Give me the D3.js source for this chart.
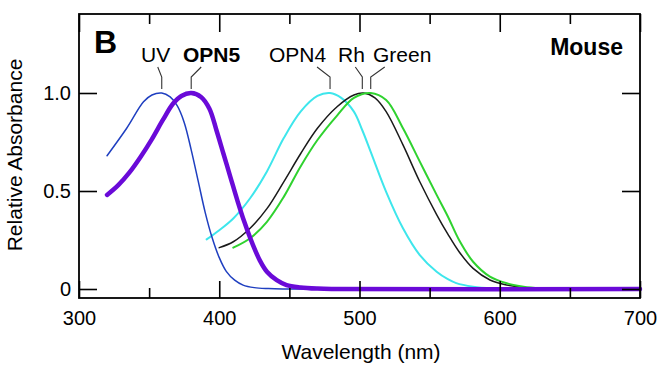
<!DOCTYPE html>
<html>
<head>
<meta charset="utf-8">
<script src="https://d3js.org/d3.v7.min.js"></script>
<style>
  body { margin: 0; background: #fff; }
  svg text { font-family: "Liberation Sans", Arial, sans-serif; fill: #000; }
</style>
</head>
<body>
<div id="chart"></div>
<script>
// absorbance spectra, [wavelength nm, relative absorbance]
const uv = [[320,.68],[334,.82],[346,.955],[352,.99],[359,1],[365,.98],[370,.935],[375,.85],[380,.71],[385,.55],[390,.39],[395,.26],[400,.16],[405,.09],[411,.045],[417,.02],[425,.007],[435,.002],[445,0],[700,0]];
const opn5 = [[320,.48],[328,.53],[336,.595],[344,.675],[352,.765],[360,.865],[367,.945],[373,.985],[380,1],[387,.98],[393,.92],[398,.81],[403,.69],[408,.57],[413,.45],[418,.34],[424,.225],[429,.145],[434,.088],[441,.045],[448,.02],[458,.008],[470,.002],[480,0],[700,0]];
const opn4 = [[391,.253],[400,.30],[410,.36],[422,.463],[434,.60],[446,.77],[458,.905],[470,.985],[479,1],[487,.975],[496,.905],[502,.81],[508,.70],[519,.496],[531,.31],[543,.173],[555,.088],[563,.05],[569,.03],[581,.012],[595,.003],[610,0],[700,0]];
const rh = [[400,.211],[410,.241],[422,.31],[434,.41],[446,.547],[458,.69],[470,.82],[484,.93],[496,.99],[503,1],[511,.975],[519,.905],[531,.735],[543,.547],[555,.38],[563,.28],[571,.19],[581,.105],[593,.046],[605,.02],[617,.008],[630,.002],[640,0],[700,0]];
const green = [[410,.211],[422,.259],[434,.343],[446,.47],[458,.625],[470,.76],[484,.885],[496,.975],[508,1],[519,.964],[531,.82],[543,.65],[555,.48],[563,.37],[571,.25],[581,.139],[593,.063],[605,.029],[617,.012],[630,.004],[645,0],[700,0]];

const majorTicks = [300, 400, 500, 600, 700];
const minorTicks = [350, 450, 550, 650];
const yTicks = [0, 0.5, 1];
const yTickLabels = ["0", "0.5", "1.0"];

// label text, peak wavelength, horizontal shift of the leader's top end
const labels = [
  {name: "UV", peak: 359, shift: -4, x: 141, bold: false},
  {name: "OPN5", peak: 380, shift: 10, x: 183, bold: true},
  {name: "OPN4", peak: 479, shift: -13, x: 269, bold: false},
  {name: "Rh", peak: 502, shift: -7, x: 338, bold: false},
  {name: "Green", peak: 508, shift: 14, x: 373, bold: false}
];

const w = 661, h = 370;
const mLeft = 79, mRight = 640, mTop = 14, mBottom = 298;

const svg = d3.select("#chart").append("svg")
  .attr("width", w)
  .attr("height", h);

const x = d3.scaleLinear().domain([300, 700]).range([mLeft, mRight]);
const y = d3.scaleLinear().domain([0, 1]).range([289, 93]);

const line = d3.line()
  .x(d => x(d[0]))
  .y(d => y(Math.max(0, d[1])))
  .curve(d3.curveCatmullRom.alpha(0.5));

// curves (purple one drawn last, on top)
const series = [
  {data: opn4, color: "#3ee6ec", width: 2},
  {data: rh, color: "#1a1a1a", width: 1.5},
  {data: green, color: "#2fd22f", width: 2},
  {data: uv, color: "#1f3fc0", width: 1.5},
  {data: opn5, color: "#6a0ad8", width: 4.5}
];

svg.append("g")
  .selectAll("path")
  .data(series)
  .enter()
  .append("path")
  .attr("d", d => line(d.data))
  .attr("fill", "none")
  .attr("stroke", d => d.color)
  .attr("stroke-width", d => d.width)
  .attr("stroke-linejoin", "round")
  .attr("stroke-linecap", "round");

// axes with inward ticks
svg.append("g")
  .attr("transform", "translate(0," + mBottom + ")")
  .call(d3.axisBottom(x).tickValues(majorTicks).tickSizeInner(-17).tickSizeOuter(0).tickPadding(13).tickFormat(d3.format("d")));

svg.append("g")
  .attr("transform", "translate(0," + mBottom + ")")
  .call(d3.axisBottom(x).tickValues(minorTicks).tickSizeInner(-10).tickSizeOuter(0).tickFormat(""));

svg.append("g")
  .attr("transform", "translate(0," + mTop + ")")
  .call(d3.axisTop(x).tickValues(majorTicks).tickSizeInner(-18).tickSizeOuter(0).tickFormat(""));

svg.append("g")
  .attr("transform", "translate(0," + mTop + ")")
  .call(d3.axisTop(x).tickValues(minorTicks).tickSizeInner(-10).tickSizeOuter(0).tickFormat(""));

svg.append("g")
  .attr("transform", "translate(" + mLeft + ",0)")
  .call(d3.axisLeft(y).tickValues(yTicks).tickSizeInner(-18).tickSizeOuter(0).tickPadding(8)
    .tickFormat((d, i) => yTickLabels[i]));

svg.append("g")
  .attr("transform", "translate(" + mRight + ",0)")
  .call(d3.axisRight(y).tickValues(yTicks).tickSizeInner(-18).tickSizeOuter(0).tickFormat(""));

svg.selectAll(".domain").remove();
svg.selectAll(".tick line").attr("stroke", "#000").attr("stroke-width", 1.6);
svg.selectAll(".tick text").style("font-size", "20px").attr("fill", "#000");

// frame
svg.append("rect")
  .attr("x", mLeft)
  .attr("y", mTop)
  .attr("width", mRight - mLeft)
  .attr("height", mBottom - mTop)
  .attr("fill", "none")
  .attr("stroke", "#000")
  .attr("stroke-width", 1.8);

// axis titles
svg.append("text")
  .attr("x", 361)
  .attr("y", 359)
  .attr("text-anchor", "middle")
  .style("font-size", "21px")
  .text("Wavelength (nm)");

svg.append("text")
  .attr("transform", "translate(22,155) rotate(-90)")
  .attr("text-anchor", "middle")
  .style("font-size", "21px")
  .text("Relative Absorbance");

// panel letter and species
svg.append("text")
  .attr("x", 94)
  .attr("y", 53)
  .style("font-size", "32px")
  .style("font-weight", "bold")
  .text("B");

svg.append("text")
  .attr("x", 623)
  .attr("y", 55)
  .attr("text-anchor", "end")
  .style("font-size", "23px")
  .style("font-weight", "bold")
  .text("Mouse");

// curve labels with leader lines to the peaks
svg.append("g")
  .selectAll("text")
  .data(labels)
  .enter()
  .append("text")
  .attr("x", d => d.x)
  .attr("y", 62)
  .style("font-size", "21px")
  .style("font-weight", d => d.bold ? "bold" : "normal")
  .text(d => d.name);

svg.append("g")
  .selectAll("polyline")
  .data(labels)
  .enter()
  .append("polyline")
  .attr("points", d => {
    const px = x(d.peak);
    return [[px + d.shift, 67], [px, 77], [px, y(1) - 4]].map(p => p.join(",")).join(" ");
  })
  .attr("fill", "none")
  .attr("stroke", "#333")
  .attr("stroke-width", 1.1);
</script>
</body>
</html>
